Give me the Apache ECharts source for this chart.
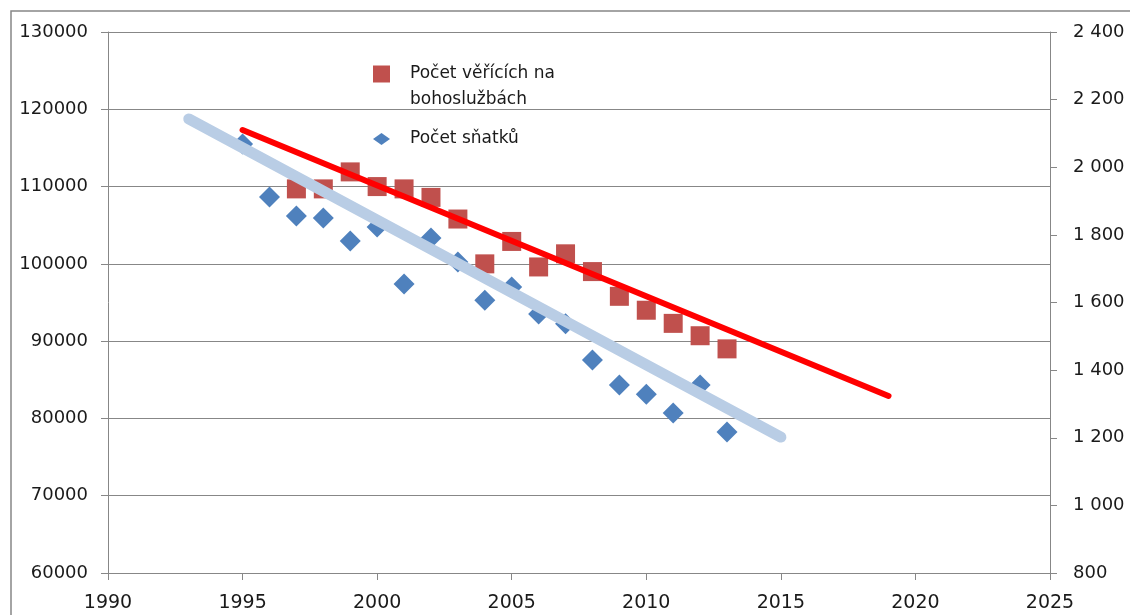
<!DOCTYPE html>
<html>
<head>
<meta charset="utf-8">
<script src="https://cdn.jsdelivr.net/npm/echarts@6/dist/echarts.min.js"></script>
<style>html,body{margin:0;padding:0;background:#fff;}#c{width:1130px;height:615px;}</style>
</head>
<body>
<div id="c"></div>
<script>
// ---- data ----
const redName = 'Počet věřících na\nbohoslužbách';
const blueName = 'Počet sňatků';
const redYears = [1997,1998,1999,2000,2001,2002,2003,2004,2005,2006,2007,2008,2009,2010,2011,2012,2013];
const redValues = [109700,109700,111900,110000,109700,108600,105800,100000,102900,99600,101300,99000,95800,94000,92300,90700,89000];
const blueYears = [1995,1996,1997,1998,1999,2000,2001,2002,2003,2004,2005,2006,2007,2008,2009,2010,2011,2012,2013];
const blueValues = [2069,1912,1856,1850,1782,1823,1655,1791,1720,1607,1646,1566,1537,1430,1356,1329,1273,1356,1217];
const redTrendYears = [1995, 2019];
const redTrendValues = [117320, 82905];
const blueTrendYears = [1993, 2015];
const blueTrendValues = [2143, 1202];
const xTicks = {min: 1990, max: 2025, interval: 5};
const leftTicks = {min: 60000, max: 130000, interval: 10000};
const rightTicks = {min: 800, max: 2400, interval: 200};

const pairs = (xs, ys) => xs.map((x, i) => [x, ys[i]]);
const FONT = 'DejaVu Sans';
const GRAY = '#878787';
const TXT = '#1a1a1a';

const chart = echarts.init(document.getElementById('c'), null, {renderer: 'canvas'});
chart.setOption({
  animation: false,
  backgroundColor: '#fff',
  graphic: [{
    type: 'rect', shape: {x: 11, y: 11, width: 1160, height: 660},
    style: {fill: 'none', stroke: GRAY, lineWidth: 1.5}, silent: true, z: 0
  }],
  grid: {left: 108, right: 80, top: 32, bottom: 42},
  legend: {
    left: 368, top: 30, orient: 'vertical', itemWidth: 17, itemHeight: 17, itemGap: 13,
    textStyle: {fontFamily: FONT, fontSize: 17, color: TXT, lineHeight: 26, padding: [0, 0, 0, 15]},
    formatter: name => name === redName ? ' \n' + name : name,
    data: [
      {name: redName, icon: 'rect'},
      {name: blueName, icon: 'path://M0,5L7,0L14,5L7,10Z'}
    ]
  },
  xAxis: {
    type: 'value', min: xTicks.min, max: xTicks.max, interval: xTicks.interval,
    axisLine: {show: true, lineStyle: {color: GRAY, width: 1}},
    axisTick: {show: true, length: 7, lineStyle: {color: GRAY}},
    splitLine: {show: false},
    axisLabel: {fontFamily: FONT, fontSize: 19, color: TXT, margin: 21, formatter: v => String(v)}
  },
  yAxis: [{
    type: 'value', position: 'left', min: leftTicks.min, max: leftTicks.max, interval: leftTicks.interval,
    axisLine: {show: true, lineStyle: {color: GRAY, width: 1}},
    axisTick: {show: true, length: 7, lineStyle: {color: GRAY}},
    splitLine: {show: true, lineStyle: {color: GRAY, width: 1}},
    axisLabel: {fontFamily: FONT, fontSize: 18, color: TXT, margin: 20, formatter: v => String(v)}
  }, {
    type: 'value', position: 'right', min: rightTicks.min, max: rightTicks.max, interval: rightTicks.interval,
    axisLine: {show: true, lineStyle: {color: GRAY, width: 1}},
    axisTick: {show: true, length: 7, lineStyle: {color: GRAY}},
    splitLine: {show: false},
    axisLabel: {fontFamily: FONT, fontSize: 18, color: TXT, margin: 23,
      formatter: v => String(v).replace(/\B(?=(\d{3})+(?!\d))/g, ' ')}
  }],
  series: [{
    name: redName, type: 'scatter', yAxisIndex: 0, symbol: 'rect', symbolSize: 19,
    itemStyle: {color: '#c0504d', opacity: 1}, z: 2,
    data: pairs(redYears, redValues)
  }, {
    name: blueName, type: 'scatter', yAxisIndex: 1, symbol: 'diamond', symbolSize: [21, 21],
    itemStyle: {color: '#4f81bd', opacity: 1}, z: 3,
    data: pairs(blueYears, blueValues)
  }, {
    name: 'trend2', type: 'line', yAxisIndex: 1, showSymbol: false, symbol: 'none', z: 4,
    lineStyle: {color: '#b9cde5', width: 11, cap: 'round'},
    data: pairs(blueTrendYears, blueTrendValues)
  }, {
    name: 'trend1', type: 'line', yAxisIndex: 0, showSymbol: false, symbol: 'none', z: 5,
    lineStyle: {color: '#ff0000', width: 6, cap: 'round'},
    data: pairs(redTrendYears, redTrendValues)
  }]
});
</script>
</body>
</html>
